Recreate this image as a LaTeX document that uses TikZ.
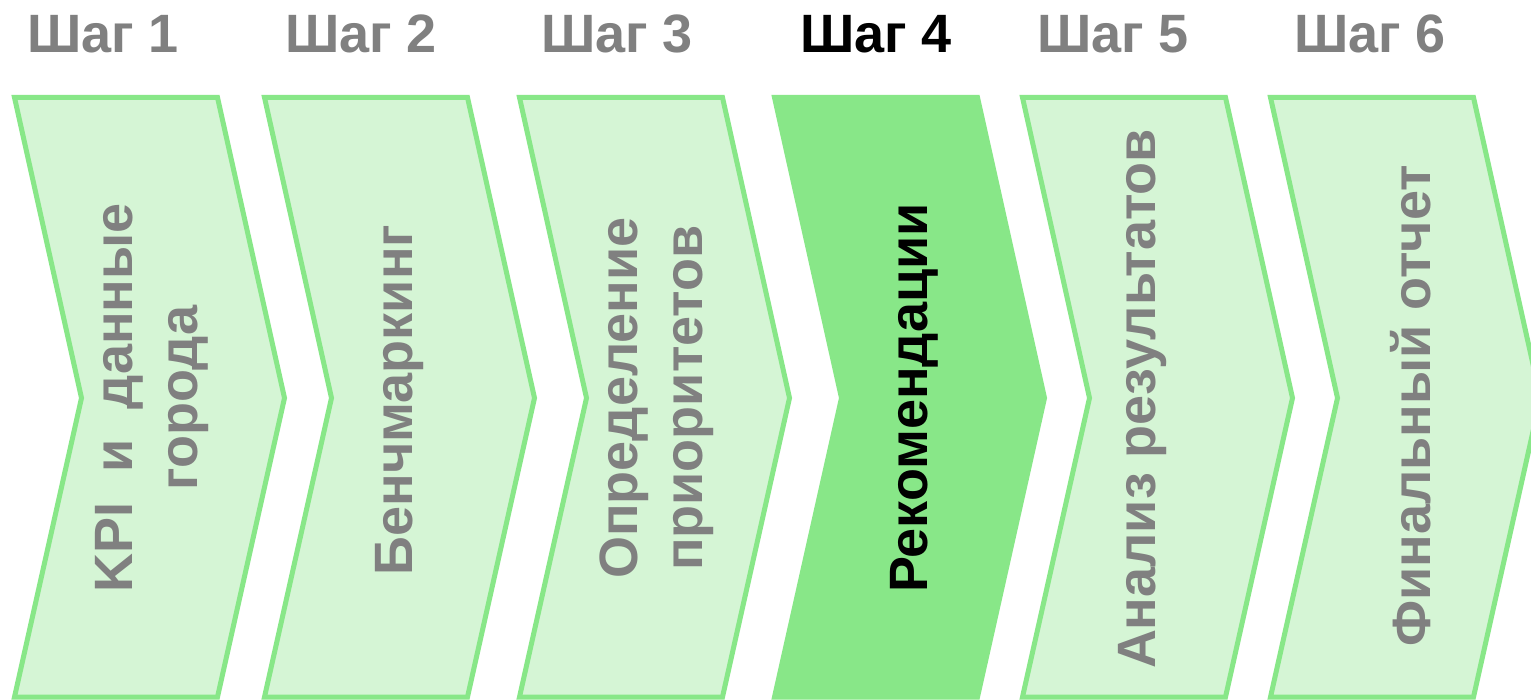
\documentclass[tikz,border=0pt]{standalone}
\usepackage{fontspec}
\setmainfont{Liberation Sans}
\definecolor{chevline}{HTML}{88E788}
\definecolor{chevfill}{HTML}{D5F5D5}
\definecolor{stepgray}{HTML}{808080}
\tikzset{
 chevron/.style={draw=chevline, line width=5pt, fill=chevfill, line join=miter},
 chevtext/.style={rotate=90, align=center, inner sep=0, text=stepgray,
   font=\fontsize{54}{65}\selectfont\bfseries},
 steptitle/.style={anchor=base, inner sep=0, text=stepgray,
   font=\fontsize{54}{65}\selectfont\bfseries}
}
\begin{document}
\begin{tikzpicture}[x=1pt,y=-1pt]
\useasboundingbox (0,0) rectangle (1531,700);
\fill[white] (0,0) rectangle (1531,700);
% chevrons
\foreach \x in {14.5,264.5,519.5,1022.5,1270.5} {
 \draw[chevron] (\x,97.5) --++(203,0) --++(67,300.5) --++(-67,299) --++(-203,0) --++(67,-299) -- cycle;
}
\draw[chevron, fill=chevline] (774.5,97.5) --++(203,0) --++(67,300.5) --++(-67,299) --++(-203,0) --++(67,-299) -- cycle;
% step titles
\node[steptitle] (step1) at (103,53) {Шаг 1};
\node[steptitle] (step2) at (361,53) {Шаг 2};
\node[steptitle] (step3) at (617,53) {Шаг 3};
\node[steptitle, text=black] (step4) at (876,53) {Шаг 4};
\node[steptitle] (step5) at (1113,53) {Шаг 5};
\node[steptitle] (step6) at (1370,53) {Шаг 6};
% labels
\node[chevtext] (kpi) at (152,398) {KPI\ \ и\ \ данные\\города};
\node[chevtext] (bench) at (400,400) {Бенчмаркинг};
\node[chevtext] (prio) at (657,398) {Определение\\приоритетов};
\node[chevtext, text=black] (recom) at (914,398) {Рекомендации};
\node[chevtext] (anal) at (1143,399) {Анализ результатов};
\node[chevtext] (final) at (1411,406) {Финальный отчет};
\end{tikzpicture}
\end{document}
